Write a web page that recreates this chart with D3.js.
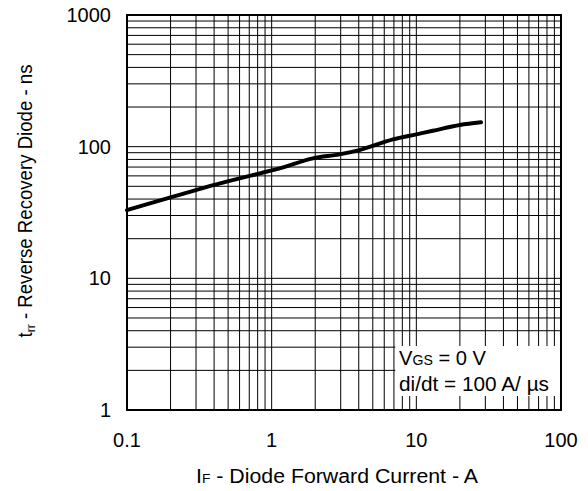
<!DOCTYPE html>
<html>
<head>
<meta charset="utf-8">
<script src="https://cdn.jsdelivr.net/npm/d3@7"></script>
<style>
	body { margin: 0; background: #fff; }
	text { font-family: "Liberation Sans", Arial, sans-serif; fill: #000; }
</style>
</head>
<body>
<svg id="chart"></svg>
<script>
// diode forward current (A) and reverse recovery time (ns)
const current = [0.1, 0.2, 0.44, 1.0, 1.135, 1.93, 2.94, 4.04, 6.9, 10, 13, 20, 28];
const trr = [33, 41.2, 52.6, 66, 68.4, 81.5, 87.4, 94.2, 113.6, 124, 132, 146, 153];

const xTickValues = [0.1, 1, 10, 100];
const yTickValues = [1, 10, 100, 1000];

const width = 588,
	height = 491,
	margin = { left: 127, right: 27, top: 15, bottom: 81 };

const svg = d3.select("#chart").attr("width", width).attr("height", height);

const x = d3.scaleLog().domain([0.1, 100]).range([margin.left, width - margin.right]);
const y = d3.scaleLog().domain([1, 1000]).range([height - margin.bottom, margin.top]);

// grid
const grid = svg.append("g").attr("stroke", "#000").attr("stroke-width", 1);
grid.selectAll(".vx")
	.data(x.ticks())
	.enter()
	.append("line")
	.attr("x1", d => x(d)).attr("x2", d => x(d))
	.attr("y1", y(1)).attr("y2", y(1000));
grid.selectAll(".hy")
	.data(y.ticks())
	.enter()
	.append("line")
	.attr("y1", d => y(d)).attr("y2", d => y(d))
	.attr("x1", x(0.1)).attr("x2", x(100));

// annotation box hides grid
svg.append("rect")
	.attr("x", x(7.15))
	.attr("y", 346)
	.attr("width", x(100) - x(7.15) - 1)
	.attr("height", 50)
	.attr("fill", "#fff");

// curve
const line = d3.line()
	.x((d, i) => x(current[i]))
	.y((d, i) => y(trr[i]))
	.curve(d3.curveMonotoneX);

svg.append("path")
	.datum(trr)
	.attr("d", line)
	.attr("fill", "none")
	.attr("stroke", "#000")
	.attr("stroke-width", 4)
	.attr("stroke-linecap", "round");

// frame
svg.append("rect")
	.attr("x", x(0.1)).attr("y", y(1000))
	.attr("width", x(100) - x(0.1))
	.attr("height", y(1) - y(1000))
	.attr("fill", "none")
	.attr("stroke", "#000")
	.attr("stroke-width", 2);

// tick labels
svg.selectAll(".xl")
	.data(xTickValues)
	.enter()
	.append("text")
	.attr("x", d => x(d))
	.attr("y", y(1) + 37)
	.attr("text-anchor", "middle")
	.attr("font-size", "20px")
	.text(d => d3.format("~g")(d));

svg.selectAll(".yl")
	.data(yTickValues)
	.enter()
	.append("text")
	.attr("x", x(0.1) - 16)
	.attr("y", d => y(d) + 7)
	.attr("text-anchor", "end")
	.attr("font-size", "20px")
	.text(d => d);

// axis titles
const xt = svg.append("text")
	.attr("x", 337)
	.attr("y", 483)
	.attr("text-anchor", "middle")
	.attr("font-size", "20px")
	.attr("textLength", 282)
	.attr("lengthAdjust", "spacingAndGlyphs");
xt.append("tspan").text("I");
xt.append("tspan").attr("font-size", "13px").text("F");
xt.append("tspan").text(" - Diode Forward Current - A");

const yt = svg.append("text")
	.attr("transform", "translate(32, 201) rotate(-90)")
	.attr("text-anchor", "middle")
	.attr("font-size", "20px")
	.attr("textLength", 273)
	.attr("lengthAdjust", "spacingAndGlyphs");
yt.append("tspan").text("t");
yt.append("tspan").attr("font-size", "13px").attr("dy", 3).text("rr");
yt.append("tspan").attr("dy", -3).text(" - Reverse Recovery Diode - ns");

// annotation
const a1 = svg.append("text").attr("x", 399).attr("y", 365)
	.attr("font-size", "20px")
	.attr("textLength", 87)
	.attr("lengthAdjust", "spacingAndGlyphs");
a1.append("tspan").text("V");
a1.append("tspan").attr("font-size", "14px").text("GS");
a1.append("tspan").text(" = 0 V");

svg.append("text")
	.attr("x", 399).attr("y", 391)
	.attr("font-size", "20px")
	.attr("textLength", 150)
	.attr("lengthAdjust", "spacingAndGlyphs")
	.text("di/dt = 100 A/ \u00b5s");
</script>
</body>
</html>
